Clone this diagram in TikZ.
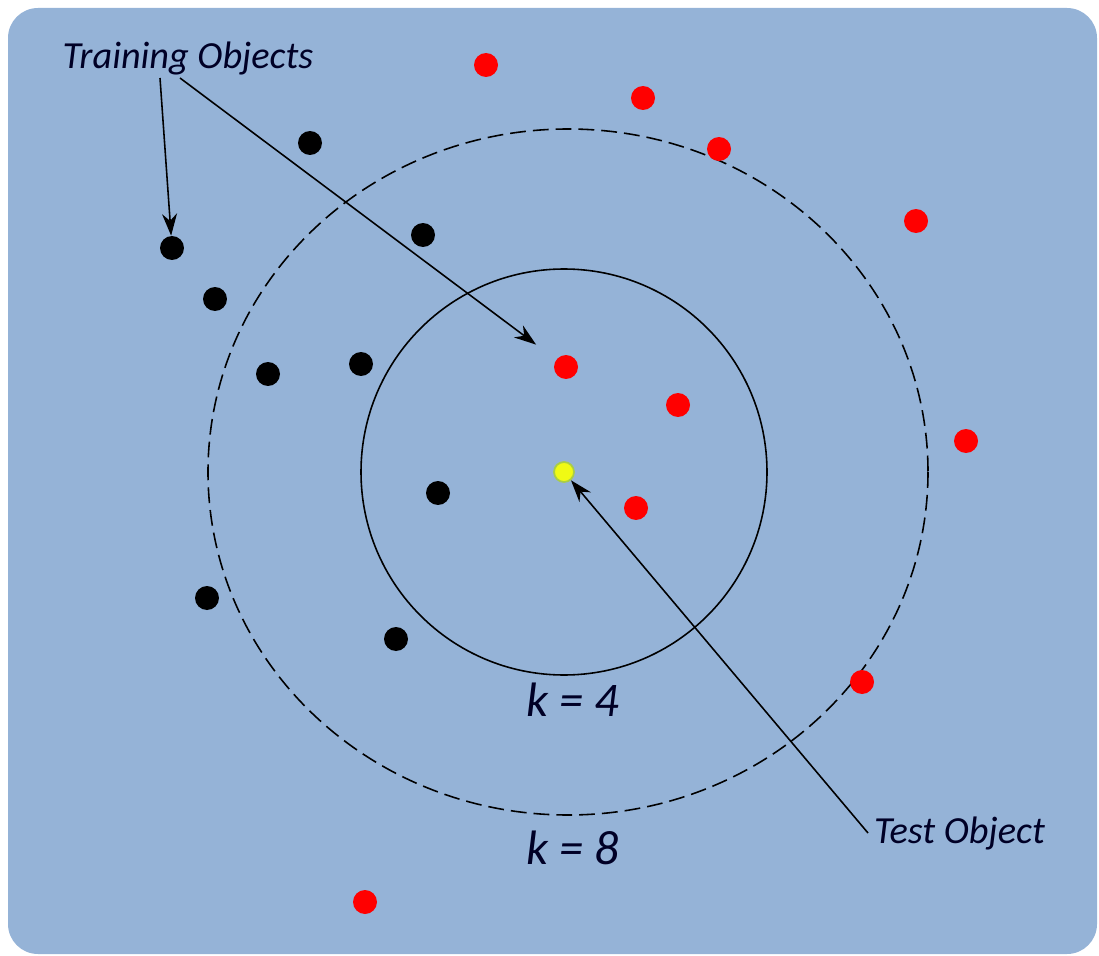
\documentclass[tikz,border=0pt]{standalone}
\usepackage{fontspec}
\newfontfamily\calib{Carlito}
\usetikzlibrary{arrows.meta}
\definecolor{bgblue}{RGB}{149,179,215}
\definecolor{testyellow}{RGB}{240,250,20}
\definecolor{testedge}{RGB}{170,205,70}
\begin{document}
\begin{tikzpicture}[x=0.02cm, y=-0.02cm,
    red/.style = {circle, fill=red, inner sep=0pt, minimum size=0.48cm},
    blk/.style = {circle, fill=black, inner sep=0pt, minimum size=0.48cm},
    lbl/.style = {font=\calib\itshape\fontsize{21.8}{24}\selectfont, text=black!85!blue},
    arr/.style = {-{Stealth[length=4.4mm, width=3mm]}, line width=0.9pt}]
    \useasboundingbox (0,0) rectangle (1099,956);
    \fill[bgblue, rounded corners=0.6cm] (8,8) rectangle (1097,954);

    % neighbourhoods
    \draw[line width=0.9pt] (564,472) circle [radius=203];
    \draw[line width=0.9pt, dashed, dash pattern=on 9pt off 4pt] (568,472) ellipse [x radius=360, y radius=343];

    % red objects
    \node[red] (r1) at (486,65) {};
    \node[red] (r2) at (643,98) {};
    \node[red] (r3) at (719,149) {};
    \node[red] (r4) at (916,221) {};
    \node[red] (r5) at (566,367) {};
    \node[red] (r6) at (678,405) {};
    \node[red] (r7) at (966,441) {};
    \node[red] (r8) at (636,508) {};
    \node[red] (r9) at (862,682) {};
    \node[red] (r10) at (365,902) {};

    % black objects
    \node[blk] (b1) at (310,143) {};
    \node[blk] (b2) at (172,248) {};
    \node[blk] (b3) at (423,235) {};
    \node[blk] (b4) at (215,299) {};
    \node[blk] (b5) at (268,374) {};
    \node[blk] (b6) at (361,364) {};
    \node[blk] (b7) at (438,493) {};
    \node[blk] (b8) at (207,598) {};
    \node[blk] (b9) at (396,639) {};

    % test object
    \node[circle, fill=testyellow, draw=testedge, line width=1pt, inner sep=0pt, minimum size=0.4cm] (t) at (564,472) {};

    % labels
    \node[lbl] (tr) at (188,58) {Training Objects};
    \node[lbl, anchor=west] (te) at (868,833) {Test Object};
    \node[lbl, font=\calib\itshape\fontsize{27.5}{30}\selectfont] (k4) at (573,700) {k = 4};
    \node[lbl, font=\calib\itshape\fontsize{27.5}{30}\selectfont] (k8) at (573,848) {k = 8};

    \coordinate (tr1) at (160,78);
    \coordinate (tr2) at (180,78);
    \draw[arr] (tr1) -- (b2);
    \draw[arr, shorten >=0.5cm] (tr2) -- (r5);
    \draw[arr] (te.west) -- (t);

\end{tikzpicture}
\end{document}
